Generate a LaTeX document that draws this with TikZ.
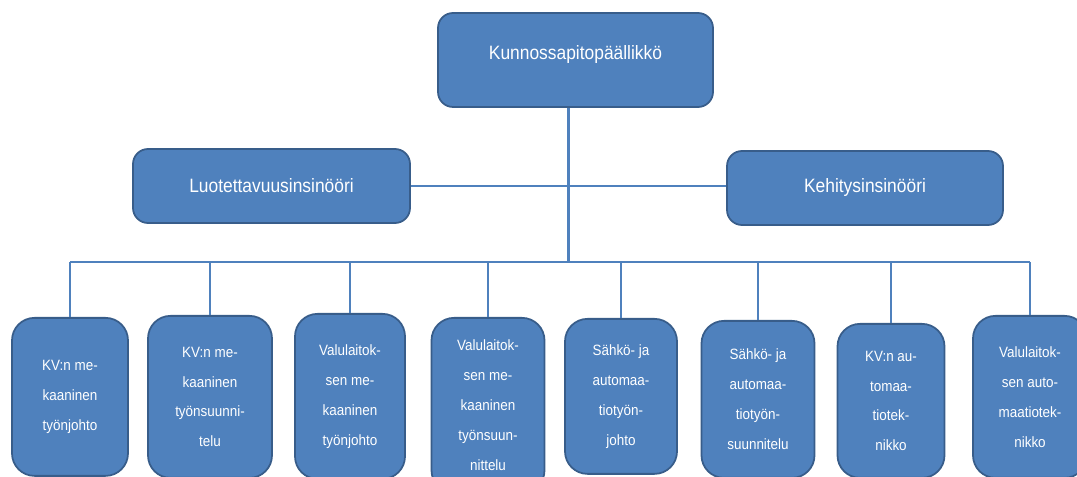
\documentclass[tikz,border=0pt]{standalone}
\usepackage{fontspec}
\setmainfont{Liberation Sans}[FakeStretch=0.9]
\usepackage{xcolor}
\usetikzlibrary{positioning,calc}
\definecolor{orgblue}{RGB}{79,129,189}
\definecolor{orgedge}{RGB}{56,93,138}
\tikzset{
  johto/.style={draw=orgedge, line width=1pt, fill=orgblue, rounded corners=0.3cm, text=white, font=\fontsize{11}{13}\selectfont, align=center},
  tiimi/.style={draw=orgedge, line width=1pt, fill=orgblue, rounded corners=0.45cm, text=white, font=\fontsize{8.5}{17}\selectfont, align=center, anchor=north, inner sep=2pt},
  yhteys/.style={orgblue, line width=1.2pt},
}
\begin{document}
\begin{tikzpicture}
  \useasboundingbox (0,0) rectangle (21.54,-9.54);
  \node[johto, minimum width=5.5cm, minimum height=1.88cm, text depth=0.3cm] (paal) at (11.51,-1.2) {Kunnossapitopäällikkö};
  \node[johto, minimum width=5.54cm, minimum height=1.48cm] (luot) at (5.43,-3.72) {Luotettavuusinsinööri};
  \node[johto, minimum width=5.52cm, minimum height=1.48cm] (kehi) at (17.3,-3.76) {Kehitysinsinööri};
  \node[tiimi, minimum width=2.32cm, minimum height=3.16cm] (c1) at (1.40,-6.34) {KV:n me-\\kaaninen\\työnjohto};
  \node[tiimi, minimum width=2.48cm, minimum height=3.24cm] (c2) at (4.20,-6.30) {KV:n me-\\kaaninen\\työnsuunni-\\telu};
  \node[tiimi, minimum width=2.2cm, minimum height=3.3cm] (c3) at (7.00,-6.26) {Valulaitok-\\sen me-\\kaaninen\\työnjohto};
  \node[tiimi, minimum width=2.26cm, minimum height=3.5cm] (c4) at (9.76,-6.34) {Valulaitok-\\sen me-\\kaaninen\\työnsuun-\\nittelu};
  \node[tiimi, minimum width=2.24cm, minimum height=3.1cm] (c5) at (12.42,-6.36) {Sähkö- ja\\automaa-\\tiotyön-\\johto};
  \node[tiimi, minimum width=2.26cm, minimum height=3.14cm] (c6) at (15.16,-6.40) {Sähkö- ja\\automaa-\\tiotyön-\\suunnitelu};
  \node[tiimi, minimum width=2.14cm, minimum height=3.08cm] (c7) at (17.82,-6.46) {KV:n au-\\tomaa-\\tiotek-\\nikko};
  \node[tiimi, minimum width=2.28cm, minimum height=3.24cm] (c8) at (20.6,-6.30) {Valulaitok-\\sen auto-\\maatiotek-\\nikko};
  % runko ja haarat
  \coordinate (haara) at (11.37,-5.24);
  \draw[yhteys] (haara |- paal.south) -- (haara);
  \draw[yhteys] (luot.east) -- (luot.east -| kehi.west);
  \draw[yhteys] (haara -| c1.north) -- (haara -| c8.north);
  \draw[yhteys] (haara -| c1.north) -- (c1.north);
  \draw[yhteys] (haara -| c2.north) -- (c2.north);
  \draw[yhteys] (haara -| c3.north) -- (c3.north);
  \draw[yhteys] (haara -| c4.north) -- (c4.north);
  \draw[yhteys] (haara -| c5.north) -- (c5.north);
  \draw[yhteys] (haara -| c6.north) -- (c6.north);
  \draw[yhteys] (haara -| c7.north) -- (c7.north);
  \draw[yhteys] (haara -| c8.north) -- (c8.north);
\end{tikzpicture}
\end{document}
